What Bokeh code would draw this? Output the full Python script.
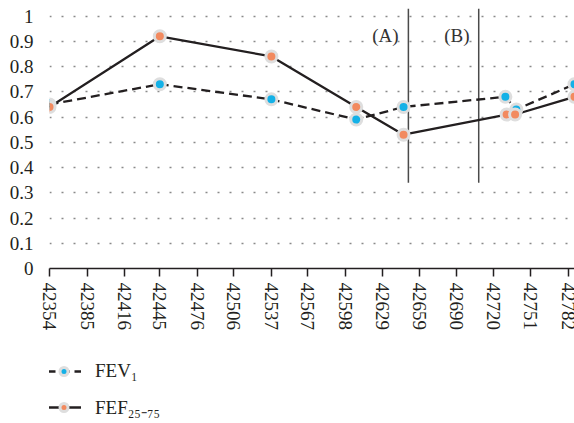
from bokeh.plotting import figure
from bokeh.layouts import column
from bokeh.models import Range1d, FixedTicker, Legend, LegendItem
from bokeh.core.properties import value
from bokeh.embed import file_html
from bokeh.resources import INLINE

# ---- data ----
fev1_dates = [42354, 42445, 42537, 42607, 42646, 42730, 42739, 42787]
fev1_values = [0.65, 0.73, 0.67, 0.59, 0.64, 0.68, 0.63, 0.73]
fef_dates = [42354, 42445, 42537, 42607, 42646, 42731, 42738, 42787]
fef_values = [0.64, 0.92, 0.84, 0.64, 0.53, 0.61, 0.61, 0.68]
x_ticks = [42354, 42385, 42416, 42445, 42476, 42506, 42537, 42567,
           42598, 42629, 42659, 42690, 42720, 42751, 42782]
y_ticks = [0, 0.1, 0.2, 0.3, 0.4, 0.5, 0.6, 0.7, 0.8, 0.9, 1]
y_tick_labels = ["0", "0.1", "0.2", "0.3", "0.4", "0.5", "0.6", "0.7", "0.8", "0.9", "1"]
period_bounds = [42650, 42708]
period_bottom = [0.34, 0.34]
period_top = [1.03, 1.03]
period_labels = ["(A)", "(B)"]
period_label_x = [42631, 42690]
period_label_y = [0.925, 0.925]
series_names = ["FEV\u2081", "FEF\u2082\u2085\u208b\u2087\u2085"]

FONT = "Liberation Serif"
FS = "19px"
BLUE = "#14b1e7"
ORANGE = "#f28a5f"
RING = "#dedede"
INK = "#231f20"

p = figure(frame_width=525, frame_height=260, output_backend="svg", toolbar_location=None,
           x_range=Range1d(42354, 42787), y_range=Range1d(0, 1.03),
           min_border_left=49, min_border_right=0, min_border_top=8, min_border_bottom=70)
p.outline_line_color = None
p.background_fill_color = "white"
p.border_fill_color = "white"

# axes
p.xaxis.ticker = FixedTicker(ticks=x_ticks)
p.xaxis.major_label_overrides = {t: str(t) for t in x_ticks}
p.xaxis.major_label_orientation = "vertical"
p.xaxis.major_label_text_font = FONT
p.xaxis.major_label_text_font_size = FS
p.xaxis.major_label_text_color = INK
p.xaxis.axis_line_color = INK
p.xaxis.axis_line_width = 1.5
p.xaxis.major_tick_line_color = INK
p.xaxis.major_tick_line_width = 1.5
p.xaxis.major_tick_out = 8
p.xaxis.major_tick_in = 0
p.xaxis.minor_tick_line_color = None
p.xaxis.major_label_standoff = 6

p.yaxis.ticker = FixedTicker(ticks=y_ticks)
p.yaxis.major_label_overrides = dict(zip(y_ticks, y_tick_labels))
p.yaxis.major_label_text_font = FONT
p.yaxis.major_label_text_font_size = FS
p.yaxis.major_label_text_color = INK
p.yaxis.axis_line_color = None
p.yaxis.major_tick_line_color = None
p.yaxis.minor_tick_line_color = None
p.yaxis.major_label_standoff = 10

p.xgrid.grid_line_color = None
p.ygrid.ticker = FixedTicker(ticks=y_ticks[1:])
p.ygrid.grid_line_color = "#8a8a8a"
p.ygrid.grid_line_width = 1.5
p.ygrid.grid_line_dash = "2 10"

# period markers
p.segment(x0=period_bounds, y0=period_bottom, x1=period_bounds, y1=period_top,
          line_color="#4a4a4a", line_width=1.5)
p.text(x=period_label_x, y=period_label_y, text=period_labels,
       text_align="center", text_baseline="middle", text_font_size=FS,
       text_color="#333333", text_font=value(FONT))

# series
p.line(fev1_dates, fev1_values, line_color=INK, line_width=2.3, line_dash="9 5")
p.line(fef_dates, fef_values, line_color=INK, line_width=2.3)
p.scatter(fev1_dates, fev1_values, size=11, fill_color=BLUE, line_color=RING, line_width=3)
p.scatter(fef_dates, fef_values, size=11, fill_color=ORANGE, line_color=RING, line_width=3)

# legend panel below the chart (legend glyphs only; their sample points lie outside the view)
lg = figure(width=574, height=85, output_backend="svg", toolbar_location=None,
            x_range=Range1d(0, 1), y_range=Range1d(0, 1),
            x_axis_type=None, y_axis_type=None, min_border=0,
            min_border_left=0, min_border_right=0, min_border_top=0, min_border_bottom=0)
lg.outline_line_color = None
lg.grid.grid_line_color = None
hidden_x = [-5, -4]
hidden_y = [-5, -5]
l1 = lg.line(hidden_x, hidden_y, line_color=INK, line_width=2.3, line_dash="9 5")
m1 = lg.scatter(hidden_x, hidden_y, size=11, fill_color=BLUE, line_color=RING, line_width=3)
l2 = lg.line(hidden_x, hidden_y, line_color=INK, line_width=2.3)
m2 = lg.scatter(hidden_x, hidden_y, size=11, fill_color=ORANGE, line_color=RING, line_width=3)
legend = Legend(items=[LegendItem(label=series_names[0], renderers=[l1, m1]),
                       LegendItem(label=series_names[1], renderers=[l2, m2])],
                location=(-3, 3), orientation="vertical",
                border_line_color=None, background_fill_alpha=0,
                label_text_font=FONT, label_text_font_size=FS, label_text_color=INK,
                glyph_width=35, glyph_height=20, label_height=20, label_standoff=14,
                spacing=12, padding=0, margin=0)
lg.add_layout(legend, "center")

layout = column(p, lg, spacing=0)
open("out.html", "w").write(file_html(layout, INLINE))
